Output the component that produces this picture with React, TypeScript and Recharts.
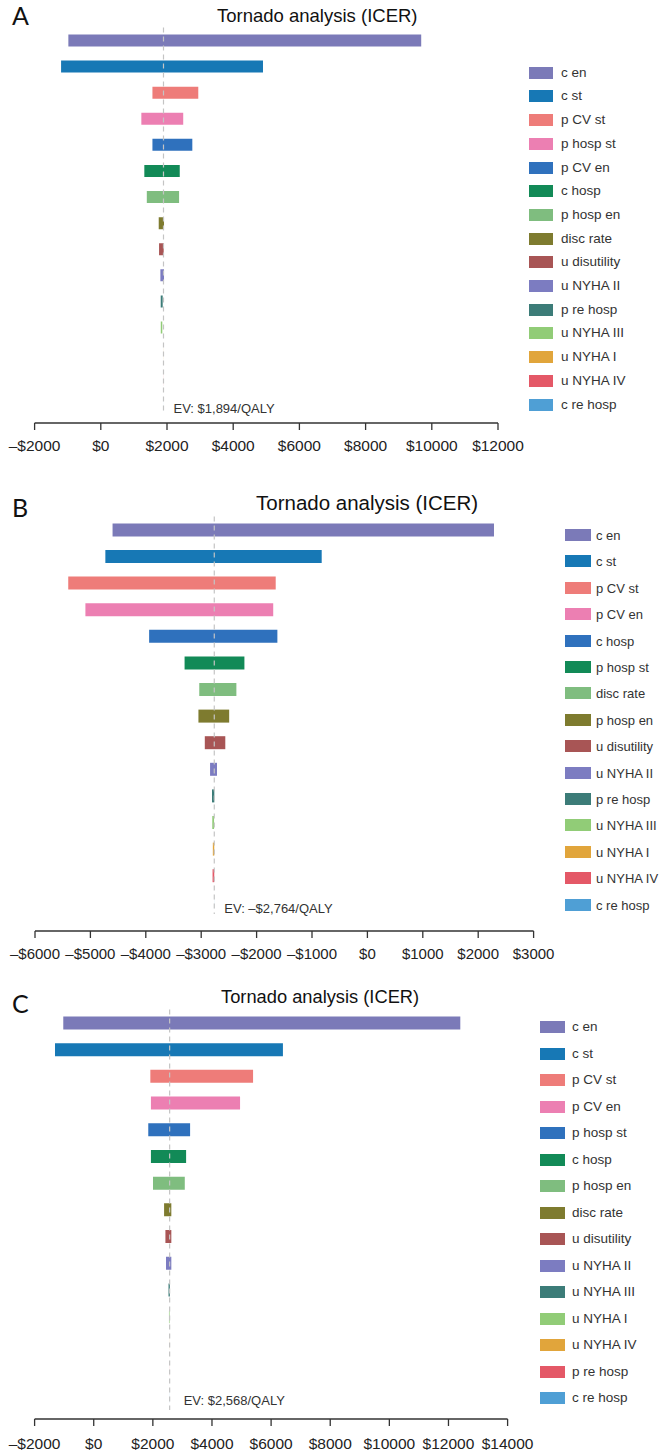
// Tornado analysis panels A / B / C (Recharts)

import React from "react";
import { BarChart, Bar, XAxis, YAxis, Cell, ReferenceLine, Label } from "recharts";

const FONT = '"Liberation Sans", Arial, Helvetica, sans-serif';
const LETTER_FONT = 'Lato, "Open Sans", sans-serif';

// colour by row position (same in every panel)
const barColors = [
  "#7b7ab8", "#1778b5", "#ee7c79", "#ec7fb2", "#2f71bd",
  "#128a57", "#7fbd7f", "#7e7b2f", "#a85555", "#7c7cc1",
  "#3c7c78", "#91cc77", "#e1a53b", "#e45867", "#4f9fd5",
];

// ---- panel A ----
const labelsA = ["c en", "c st", "p CV st", "p hosp st", "p CV en", "c hosp", "p hosp en", "disc rate", "u disutility", "u NYHA II", "p re hosp", "u NYHA III", "u NYHA I", "u NYHA IV", "c re hosp"];
const lowA = [-980, -1200, 1560, 1225, 1560, 1315, 1390, 1750, 1760, 1800, 1810, 1812, 1893, 1893, 1894];
const highA = [9680, 4900, 2945, 2490, 2765, 2385, 2365, 1910, 1900, 1910, 1870, 1858, 1895, 1895, 1895];
const ticksA = [-2000, 0, 2000, 4000, 6000, 8000, 10000, 12000];
const evA = 1894;

// ---- panel B ----
const labelsB = ["c en", "c st", "p CV st", "p CV en", "c hosp", "p hosp st", "disc rate", "p hosp en", "u disutility", "u NYHA II", "p re hosp", "u NYHA III", "u NYHA I", "u NYHA IV", "c re hosp"];
const lowB = [-4600, -4730, -5400, -5090, -3940, -3300, -3035, -3050, -2935, -2840, -2805, -2800, -2790, -2795, -2765];
const highB = [2285, -825, -1655, -1700, -1625, -2220, -2365, -2495, -2565, -2715, -2763, -2768, -2764, -2764, -2764];
const ticksB = [-6000, -5000, -4000, -3000, -2000, -1000, 0, 1000, 2000, 3000];
const evB = -2764;

// ---- panel C ----
const labelsC = ["c en", "c st", "p CV st", "p CV en", "p hosp st", "c hosp", "p hosp en", "disc rate", "u disutility", "u NYHA II", "u NYHA III", "u NYHA I", "u NYHA IV", "p re hosp", "c re hosp"];
const lowC = [-1030, -1310, 1915, 1935, 1845, 1935, 2005, 2380, 2425, 2445, 2530, 2545, 2567, 2567, 2567];
const highC = [12400, 6400, 5390, 4950, 3260, 3125, 3080, 2625, 2625, 2625, 2575, 2565, 2569, 2569, 2569];
const ticksC = [-2000, 0, 2000, 4000, 6000, 8000, 10000, 12000, 14000];
const evC = 2568;

function money(v: number) {
  return v < 0 ? `–$${Math.abs(v)}` : `$${v}`;
}

interface PanelProps {
  letter: string;
  title: string;
  titleFont: number;
  top: number; // panel top (page px)
  height: number;
  labels: string[];
  low: number[];
  high: number[];
  ticks: number[];
  ev: number;
  evText: string;
  left: number; // x of first tick
  right: number; // x of last tick
  plotTop: number;
  band: number;
  axisY: number;
  barSize: number;
  tickMargin: number;
  tickFont: number;
  evDx: number;
  evY: number;
  lineEnd: number; // where the dashed EV line stops (page px)
  letterY: number;
  titleX: number;
  titleY: number;
  legendX: number;
  legendBoxW: number;
  legendTextX: number;
  legendY0: number;
  legendStep: number;
  legendFont: number;
}

function TornadoPanel(p: PanelProps) {
  const data = p.labels.map((name, i) => ({ name, range: [p.low[i], p.high[i]] }));
  const chartW = 661;
  const xAxisH = 30;
  const relPlotTop = p.plotTop - p.top;
  const relAxis = p.axisY - p.top;
  const padBottom = p.axisY - (p.plotTop + p.band * p.labels.length);
  const margin = {
    top: relPlotTop,
    left: p.left,
    right: chartW - p.right,
    bottom: p.height - relAxis - xAxisH,
  };
  const evBaseline = p.evY - p.top + 4.7;
  const cut = p.axisY - p.lineEnd;

  return (
    <>
      <div style={{ position: "absolute", left: 0, top: p.top, width: chartW, height: p.height }}>
        <BarChart width={chartW} height={p.height} data={data} layout="vertical" margin={margin}>
          <XAxis
            type="number"
            domain={[p.ticks[0], p.ticks[p.ticks.length - 1]]}
            ticks={p.ticks}
            interval={0}
            allowDataOverflow
            height={xAxisH}
            tickFormatter={money}
            tickSize={7}
            tickMargin={p.tickMargin}
            axisLine={{ stroke: "#333", strokeWidth: 1.3 }}
            tickLine={{ stroke: "#333", strokeWidth: 1.3 }}
            tick={{ fontSize: p.tickFont, fill: "#222", fontFamily: FONT }}
          />
          <YAxis type="category" dataKey="name" hide padding={{ top: 0, bottom: padBottom }} />
          <Bar dataKey="range" barSize={p.barSize} isAnimationActive={false}>
            {data.map((d, i) => (
              <Cell key={d.name} fill={barColors[i]} />
            ))}
          </Bar>
          <ReferenceLine
            x={p.ev}
            stroke="#c4c4c4"
            strokeWidth={1.2}
            strokeDasharray="5 4"
            shape={(lp: any) => {
              const y1 = Math.min(lp.y1, lp.y2);
              const y2 = Math.max(lp.y1, lp.y2) - cut;
              return (
                <line
                  x1={lp.x1}
                  x2={lp.x2}
                  y1={y1}
                  y2={y2}
                  stroke="#c4c4c4"
                  strokeWidth={1.2}
                  strokeDasharray="5 4"
                />
              );
            }}
          >
            <Label
              content={(lp: any) => (
                <text
                  x={(lp.viewBox?.x ?? 0) + p.evDx}
                  y={evBaseline}
                  fontSize={13}
                  fill="#333"
                  fontFamily={FONT}
                >
                  {p.evText}
                </text>
              )}
            />
          </ReferenceLine>
        </BarChart>
      </div>
      <div
        style={{
          position: "absolute",
          left: 12,
          top: p.letterY,
          transform: "translateY(-50%)",
          fontFamily: LETTER_FONT,
          fontSize: 25,
          lineHeight: 1,
          color: "#111",
        }}
      >
        {p.letter}
      </div>
      <div
        style={{
          position: "absolute",
          left: p.titleX,
          top: p.titleY,
          transform: "translateY(-50%)",
          fontFamily: FONT,
          fontSize: p.titleFont,
          lineHeight: 1,
          color: "#111",
          whiteSpace: "nowrap",
        }}
      >
        {p.title}
      </div>
      {p.labels.map((name, k) => {
        const cy = p.legendY0 + p.legendStep * k;
        return (
          <React.Fragment key={name}>
            <div
              style={{
                position: "absolute",
                left: p.legendX,
                top: cy - 6,
                width: p.legendBoxW,
                height: 12,
                background: barColors[k],
              }}
            />
            <div
              style={{
                position: "absolute",
                left: p.legendTextX,
                top: cy,
                transform: "translateY(-50%)",
                fontFamily: FONT,
                fontSize: p.legendFont,
                lineHeight: 1,
                color: "#333",
                whiteSpace: "nowrap",
              }}
            >
              {name}
            </div>
          </React.Fragment>
        );
      })}
    </>
  );
}

export default function App() {
  return (
    <div style={{ position: "absolute", left: 0, top: 0, width: 661, height: 1455, background: "#fff", overflow: "hidden" }}>
      <TornadoPanel
        letter="A"
        title="Tornado analysis (ICER)"
        titleFont={18.5}
        top={0}
        height={470}
        labels={labelsA}
        low={lowA}
        high={highA}
        ticks={ticksA}
        ev={evA}
        evText="EV: $1,894/QALY"
        left={34.6}
        right={498}
        plotTop={27.45}
        band={26.1}
        axisY={423}
        barSize={12}
        tickMargin={10}
        tickFont={15.5}
        evDx={10}
        evY={408}
        lineEnd={414}
        letterY={15}
        titleX={217}
        titleY={16}
        legendX={529}
        legendBoxW={24}
        legendTextX={561}
        legendY0={72.7}
        legendStep={23.7}
        legendFont={13.5}
      />
      <TornadoPanel
        letter="B"
        title="Tornado analysis (ICER)"
        titleFont={20.5}
        top={480}
        height={490}
        labels={labelsB}
        low={lowB}
        high={highB}
        ticks={ticksB}
        ev={evB}
        evText="EV: –$2,764/QALY"
        left={35}
        right={533.6}
        plotTop={516.4}
        band={26.6}
        axisY={931}
        barSize={13}
        tickMargin={10}
        tickFont={15}
        evDx={10}
        evY={908}
        lineEnd={914}
        letterY={507}
        titleX={256}
        titleY={503}
        legendX={565}
        legendBoxW={26}
        legendTextX={596}
        legendY0={535}
        legendStep={26.4}
        legendFont={13}
      />
      <TornadoPanel
        letter="C"
        title="Tornado analysis (ICER)"
        titleFont={18.3}
        top={980}
        height={475}
        labels={labelsC}
        low={lowC}
        high={highC}
        ticks={ticksC}
        ev={evC}
        evText="EV: $2,568/QALY"
        left={34.6}
        right={507.6}
        plotTop={1009.45}
        band={26.7}
        axisY={1419}
        barSize={13}
        tickMargin={12}
        tickFont={15.5}
        evDx={14}
        evY={1400}
        lineEnd={1410}
        letterY={1003}
        titleX={221}
        titleY={997}
        legendX={540}
        legendBoxW={25}
        legendTextX={572}
        legendY0={1027}
        legendStep={26.5}
        legendFont={13.5}
      />
    </div>
  );
}
